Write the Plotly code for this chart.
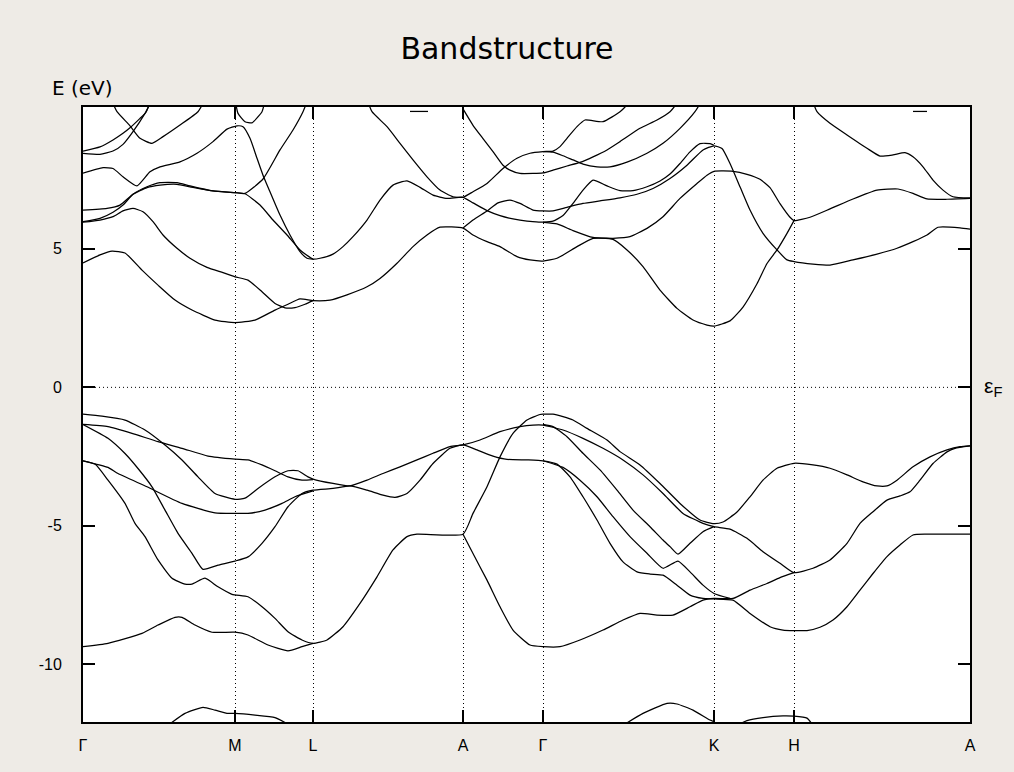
import plotly.graph_objects as go

# ---------------- high-symmetry path ----------------
kpath_labels = ["Γ", "M", "L", "A", "Γ", "K", "H", "A"]
kpath_pos = [0.0, 1.52, 2.30, 3.80, 4.60, 6.31, 7.11, 8.87]
energy_ticks = [-10, -5, 0, 5]
energy_range = [-12.08, 10.12]

# ---------------- conduction bands (k, E in eV) ----------------
c1_k = [0, 0.17, 0.29, 0.42, 0.59, 0.75, 0.92, 1.09, 1.32, 1.52, 1.72, 1.92, 2.05, 2.17, 2.30,
        2.47, 2.64, 2.84, 2.97, 3.14, 3.30, 3.44, 3.57, 3.80,
        3.90, 4.04, 4.17, 4.34, 4.47, 4.60,
        4.74, 4.94, 5.10, 5.30, 5.47, 5.64, 5.80, 5.97, 6.14, 6.24, 6.31,
        6.50, 6.64, 6.77, 6.87, 6.97, 7.07, 7.11,
        7.27, 7.47, 7.70, 7.94, 8.15, 8.30, 8.44, 8.64, 8.87]
c1_E = [4.49, 4.78, 4.92, 4.85, 4.23, 3.69, 3.15, 2.79, 2.43, 2.34, 2.43, 2.79, 3.00, 3.19, 3.13,
        3.15, 3.34, 3.63, 3.93, 4.48, 5.08, 5.50, 5.78, 5.75,
        5.50, 5.26, 5.08, 4.72, 4.60, 4.56,
        4.66, 5.08, 5.38, 5.38, 5.44, 5.74, 6.16, 6.82, 7.36, 7.66, 7.80,
        7.80, 7.69, 7.51, 7.21, 6.63, 6.14, 6.02,
        6.14, 6.44, 6.80, 7.12, 7.16, 7.00, 6.80, 6.79, 6.82]

c2_k = [0, 0.17, 0.30, 0.40, 0.50, 0.60, 0.70, 0.80, 0.94, 1.07, 1.24, 1.40, 1.52,
        1.65, 1.79, 1.92, 2.02, 2.12, 2.22, 2.30]
c2_E = [5.96, 6.04, 6.16, 6.37, 6.46, 6.34, 5.98, 5.50, 5.02, 4.66, 4.33, 4.14, 3.99,
        3.87, 3.45, 3.03, 2.87, 2.88, 3.00, 3.13]

c3_k = [0, 0.17, 0.30, 0.40, 0.50, 0.64, 0.77, 0.94, 1.07, 1.30, 1.52, 1.62, 1.80, 1.97, 2.10, 2.20, 2.25]
c3_E = [5.98, 6.10, 6.32, 6.58, 6.97, 7.24, 7.39, 7.39, 7.27, 7.09, 7.03, 7.00, 7.52, 8.57, 9.29, 9.95, 10.40]

c4_k = [0, 0.24, 0.37, 0.50, 0.64, 0.77, 0.94, 1.07, 1.30, 1.52,
        1.62, 1.77, 1.90, 2.04, 2.17, 2.30,
        2.37, 2.50, 2.60, 2.70, 2.84, 2.97, 3.10, 3.24, 3.37, 3.50, 3.64, 3.80,
        3.90, 4.04, 4.17, 4.30, 4.44, 4.60,
        4.74, 4.90, 5.10, 5.30, 5.44, 5.60, 5.77, 5.94, 6.10, 6.24, 6.31,
        6.47, 6.60, 6.74, 6.84, 6.94, 7.04, 7.11]
c4_E = [6.40, 6.46, 6.58, 6.97, 7.21, 7.30, 7.33, 7.24, 7.09, 7.03,
        6.99, 6.58, 6.04, 5.50, 4.96, 4.63,
        4.66, 4.81, 5.08, 5.44, 6.04, 6.76, 7.30, 7.45, 7.22, 6.94, 6.82, 6.86,
        6.66, 6.38, 6.20, 6.08, 6.00, 5.96,
        5.90, 5.66, 5.41, 5.34, 4.96, 4.36, 3.51, 2.85, 2.43, 2.25, 2.21,
        2.40, 2.90, 3.74, 4.47, 4.96, 5.56, 6.02]

c5_k = [0, 0.20, 0.30, 0.40, 0.54, 0.67, 0.77, 0.97, 1.14, 1.30, 1.44, 1.54, 1.60, 1.67,
        1.74, 1.80, 1.87, 1.97, 2.07, 2.17, 2.24, 2.30]
c5_E = [7.73, 7.93, 7.90, 7.60, 7.27, 7.78, 7.96, 8.14, 8.45, 8.87, 9.32, 9.44, 9.41, 8.99,
        8.27, 7.66, 7.06, 6.22, 5.50, 4.90, 4.66, 4.63]

c6_k = [0, 0.17, 0.30, 0.40, 0.47, 0.57, 0.63, 0.68]
c6_E = [8.53, 8.68, 8.93, 9.17, 9.37, 9.71, 9.93, 10.40]

c7_k = [0, 0.17, 0.30, 0.40, 0.50, 0.62, 0.68]
c7_E = [8.45, 8.41, 8.53, 8.77, 9.23, 9.89, 10.30]

c8_k = [0.30, 0.34, 0.47, 0.57, 0.69, 0.80, 0.97, 1.15, 1.20]
c8_E = [10.25, 9.95, 9.44, 8.99, 8.81, 9.05, 9.47, 9.95, 10.25]

c9_k = [1.53, 1.55, 1.62, 1.69, 1.79, 1.81]
c9_E = [10.20, 9.89, 9.59, 9.55, 9.95, 10.20]

c10_k = [2.85, 2.89, 3.04, 3.17, 3.30, 3.44, 3.57, 3.70, 3.80,
         3.90, 4.04, 4.20, 4.34, 4.47, 4.60,
         4.70, 4.77, 4.84, 4.94, 5.02, 5.20, 5.37, 5.47]
c10_E = [10.30, 9.95, 9.41, 8.81, 8.21, 7.60, 7.12, 6.88, 6.86,
         7.06, 7.36, 7.90, 8.27, 8.45, 8.51,
         8.53, 8.69, 8.99, 9.41, 9.65, 9.59, 9.95, 10.30]

c11_k = [3.80, 3.90, 4.00, 4.10, 4.20, 4.27, 4.37, 4.50, 4.60, 4.70, 4.84, 4.97,
         5.10, 5.24, 5.37, 5.57, 5.74, 5.87, 5.95]
c11_E = [10.05, 9.46, 8.98, 8.51, 8.02, 7.84, 7.72, 7.72, 7.74, 7.84, 7.99, 8.12,
         8.32, 8.57, 8.87, 9.35, 9.65, 9.95, 10.30]

c12_k = [3.80, 3.90, 4.04, 4.15, 4.27, 4.37, 4.50, 4.60,
         4.70, 4.84, 5.00, 5.17, 5.37, 5.54, 5.70, 5.87, 6.04, 6.20, 6.31,
         6.39, 6.47, 6.57, 6.67, 6.80, 6.94, 7.04, 7.11,
         7.30, 7.47, 7.70, 7.94, 8.14, 8.30, 8.44, 8.55, 8.77, 8.87]
c12_E = [5.75, 6.04, 6.37, 6.66, 6.76, 6.64, 6.40, 6.37,
         6.37, 6.50, 6.64, 6.73, 6.84, 6.97, 7.18, 7.54, 8.02, 8.57, 8.72,
         8.62, 8.08, 7.24, 6.40, 5.56, 4.96, 4.60, 4.54,
         4.45, 4.41, 4.60, 4.81, 5.02, 5.26, 5.50, 5.78, 5.76, 5.71]

c13_k = [4.60, 4.70, 4.80, 4.90, 5.00, 5.10, 5.24, 5.37, 5.50, 5.64, 5.77, 5.87,
         5.97, 6.07, 6.17, 6.27, 6.31]
c13_E = [5.96, 6.00, 6.20, 6.64, 7.12, 7.48, 7.27, 7.10, 7.10, 7.24, 7.45, 7.70,
         8.08, 8.50, 8.80, 8.80, 8.74]

c14_k = [4.60, 4.70, 4.80, 4.90, 5.00, 5.14, 5.27, 5.44, 5.64, 5.80, 5.97, 6.12, 6.18]
c14_E = [8.51, 8.49, 8.36, 8.21, 8.06, 7.96, 7.96, 8.13, 8.45, 8.81, 9.35, 9.95, 10.30]

c15_k = [7.30, 7.34, 7.47, 7.64, 7.84, 7.97, 8.10, 8.22, 8.30, 8.40, 8.50, 8.60, 8.70, 8.87]
c15_E = [10.30, 9.95, 9.53, 9.11, 8.63, 8.35, 8.39, 8.47, 8.32, 7.96, 7.48, 7.12, 6.88, 6.84]

c16_k = [3.27, 3.45]
c16_E = [9.96, 9.96]

c17_k = [8.30, 8.44]
c17_E = [9.96, 9.96]

# ---------------- valence bands ----------------
v1_k = [0, 0.19, 0.42, 0.62, 0.82, 0.99, 1.15, 1.32, 1.52, 1.62, 1.75, 1.92, 2.05, 2.15, 2.25, 2.30,
        2.50, 2.67, 2.84, 3.00, 3.17, 3.34, 3.50, 3.67, 3.80,
        3.97, 4.17, 4.37, 4.50, 4.60,
        4.80, 5.00, 5.20, 5.40, 5.60, 5.80, 6.00, 6.20, 6.31,
        6.47, 6.64, 6.80, 6.97, 7.11,
        7.30, 7.47, 7.64, 7.77, 7.90, 8.04, 8.17, 8.27, 8.37, 8.50, 8.64, 8.72, 8.87]
v1_E = [-0.97, -1.04, -1.18, -1.54, -2.08, -2.62, -3.23, -3.83, -4.04, -4.00, -3.65, -3.23, -3.01, -3.01, -3.23, -3.31,
        -3.47, -3.56, -3.35, -3.11, -2.87, -2.62, -2.38, -2.14, -2.08,
        -1.90, -1.60, -1.42, -1.36, -1.36,
        -1.54, -1.84, -2.20, -2.62, -3.16, -3.83, -4.55, -4.91, -5.03,
        -5.12, -5.45, -5.93, -6.35, -6.69,
        -6.53, -6.23, -5.63, -4.91, -4.49, -4.07, -3.92, -3.77, -3.35, -2.75, -2.33, -2.20, -2.11]

v2_k = [0, 0.25, 0.49, 0.75, 0.99, 1.25, 1.52, 1.65, 1.79, 1.92, 2.05, 2.19, 2.30]
v2_E = [-1.34, -1.42, -1.66, -1.96, -2.20, -2.48, -2.59, -2.62, -2.80, -3.01, -3.23, -3.35, -3.33]

v3_k = [0, 0.25, 0.42, 0.55, 0.69, 0.82, 0.95, 1.09, 1.20, 1.35, 1.52,
        1.65, 1.79, 1.92, 2.05, 2.19, 2.30,
        2.50, 2.67, 2.84, 3.00, 3.12, 3.24, 3.37, 3.50, 3.67, 3.80,
        3.94, 4.10, 4.24, 4.44, 4.60,
        4.74, 4.87, 5.00, 5.14, 5.27, 5.40, 5.54, 5.67, 5.80, 5.94, 6.07, 6.20, 6.31,
        6.50, 6.67, 6.87, 7.00, 7.11,
        7.24, 7.37, 7.50, 7.64, 7.77, 7.90, 8.04, 8.17, 8.30, 8.44, 8.87]
v3_E = [-1.34, -1.84, -2.39, -2.93, -3.59, -4.43, -5.27, -5.99, -6.57, -6.42, -6.27,
        -6.12, -5.63, -5.03, -4.31, -3.83, -3.71,
        -3.65, -3.56, -3.71, -3.89, -3.97, -3.83, -3.35, -2.75, -2.20, -2.08,
        -2.26, -2.48, -2.60, -2.62, -2.65,
        -2.77, -3.23, -3.95, -4.79, -5.63, -6.30, -6.66, -6.74, -6.78, -7.14, -7.50, -7.62, -7.64,
        -7.68, -8.16, -8.64, -8.76, -8.78,
        -8.78, -8.66, -8.40, -7.92, -7.32, -6.72, -6.11, -5.69, -5.33, -5.30, -5.30]

v4_k = [0, 0.25, 0.35, 0.64, 0.99, 1.32, 1.52, 1.65, 1.82, 1.99, 2.12, 2.30]
v4_E = [-2.65, -2.89, -3.11, -3.59, -4.19, -4.53, -4.55, -4.55, -4.43, -4.19, -3.95, -3.74]

v5_k = [0, 0.12, 0.25, 0.42, 0.52, 0.62, 0.75, 0.89, 1.02, 1.09, 1.22, 1.35, 1.49,
        1.65, 1.79, 1.92, 2.05, 2.19, 2.30,
        2.44, 2.60, 2.77, 2.94, 3.10, 3.24, 3.34, 3.80,
        3.90, 4.04, 4.17, 4.30, 4.44, 4.57, 4.60, 4.70,
        4.80, 4.90, 5.04, 5.24, 5.37, 5.57, 5.77, 5.97, 6.17, 6.31,
        6.40, 6.54, 6.67, 6.80, 6.94, 7.11,
        7.30, 7.47, 7.64, 7.80, 7.94, 8.04, 8.14, 8.30, 8.47, 8.64, 8.77, 8.87]
v5_E = [-2.65, -2.77, -3.35, -4.19, -4.91, -5.39, -6.23, -6.89, -7.10, -7.10, -6.89, -7.20, -7.47,
        -7.56, -7.92, -8.34, -8.82, -9.12, -9.24,
        -9.12, -8.64, -7.80, -6.84, -5.87, -5.39, -5.30, -5.30,
        -4.55, -3.59, -2.51, -1.66, -1.18, -0.98, -0.97, -0.97,
        -1.06, -1.18, -1.48, -1.90, -2.32, -2.80, -3.47, -4.19, -4.79, -4.92,
        -4.86, -4.50, -3.95, -3.35, -2.92, -2.74,
        -2.80, -2.92, -3.16, -3.41, -3.56, -3.56, -3.35, -2.87, -2.51, -2.26, -2.14, -2.11]

v6_k = [0, 0.25, 0.59, 0.75, 0.92, 0.99, 1.12, 1.29, 1.52, 1.65, 1.85, 2.05, 2.19, 2.30]
v6_E = [-9.36, -9.24, -8.88, -8.58, -8.30, -8.30, -8.58, -8.84, -8.84, -8.94, -9.30, -9.51, -9.36, -9.24]

v7_k = [3.80, 3.90, 4.04, 4.17, 4.30, 4.47, 4.60,
        4.77, 4.97, 5.20, 5.40, 5.57, 5.74, 5.90, 6.07, 6.20, 6.31,
        6.50, 6.67, 6.84, 6.97, 7.11]
v7_E = [-5.30, -6.00, -6.96, -7.92, -8.76, -9.30, -9.36,
        -9.36, -9.12, -8.76, -8.40, -8.16, -8.22, -8.22, -7.92, -7.68, -7.62,
        -7.62, -7.32, -7.08, -6.87, -6.69]

v8_k = [4.60, 4.70, 4.84, 5.00, 5.17, 5.34, 5.50, 5.67, 5.80, 5.87, 5.95, 6.07, 6.20, 6.31]
v8_E = [-1.34, -1.42, -1.78, -2.38, -2.98, -3.71, -4.43, -5.03, -5.51, -5.75, -6.02, -5.63, -5.21, -5.03]

v9_k = [4.60, 4.80, 4.97, 5.14, 5.30, 5.47, 5.64, 5.80, 5.95, 6.07, 6.20, 6.31, 6.47]
v9_E = [-2.65, -2.89, -3.35, -3.95, -4.67, -5.39, -5.99, -6.53, -6.27, -6.66, -7.14, -7.44, -7.62]

b1_k = [0.85, 1.02, 1.20, 1.32, 1.45, 1.52, 1.72, 1.92, 2.07]
b1_E = [-12.20, -11.77, -11.55, -11.65, -11.77, -11.77, -11.83, -11.92, -12.20]

b2_k = [5.40, 5.60, 5.84, 5.94, 6.10, 6.27, 6.31]
b2_E = [-12.20, -11.77, -11.41, -11.43, -11.65, -12.01, -12.07]

b3_k = [6.54, 6.64, 6.80, 7.00, 7.11, 7.24, 7.30]
b3_E = [-12.20, -12.03, -11.92, -11.86, -11.87, -11.94, -12.20]

bands = [
    (c1_k, c1_E), (c2_k, c2_E), (c3_k, c3_E), (c4_k, c4_E), (c5_k, c5_E),
    (c6_k, c6_E), (c7_k, c7_E), (c8_k, c8_E), (c9_k, c9_E), (c10_k, c10_E),
    (c11_k, c11_E), (c12_k, c12_E), (c13_k, c13_E), (c14_k, c14_E), (c15_k, c15_E),
    (c16_k, c16_E), (c17_k, c17_E),
    (v1_k, v1_E), (v2_k, v2_E), (v3_k, v3_E), (v4_k, v4_E), (v5_k, v5_E),
    (v6_k, v6_E), (v7_k, v7_E), (v8_k, v8_E), (v9_k, v9_E),
    (b1_k, b1_E), (b2_k, b2_E), (b3_k, b3_E),
]

FONT = "Liberation Sans, Arial, sans-serif"
WIDE_FONT = "DejaVu Sans, Liberation Sans, sans-serif"
DOTS = "1px,3px"

fig = go.Figure()
for k, e in bands:
    fig.add_trace(go.Scatter(
        x=k, y=e, mode="lines",
        line=dict(color="black", width=1.25, shape="spline", smoothing=0.5),
        showlegend=False, hoverinfo="skip",
    ))

# dotted Fermi level line
fig.add_shape(type="line", xref="paper", x0=0, x1=1, yref="y", y0=0, y1=0,
              line=dict(color="black", width=1, dash=DOTS), layer="below")

fig.update_layout(
    width=1014, height=772,
    margin=dict(l=83, r=44, t=107, b=50),
    paper_bgcolor="#eeebe6",
    plot_bgcolor="white",
    font=dict(family=FONT, color="black", size=16),
    title=dict(text="Bandstructure", x=0.5, xref="container", xanchor="center",
               y=1 - 48 / 772, yref="container", yanchor="middle",
               font=dict(family=WIDE_FONT, size=30, color="black")),
    showlegend=False,
)

fig.update_xaxes(
    range=[kpath_pos[0], kpath_pos[-1]],
    tickmode="array", tickvals=kpath_pos, ticktext=kpath_labels,
    ticks="inside", ticklen=12, tickwidth=1.5, tickcolor="black",
    showline=True, linecolor="black", linewidth=2, mirror="ticks",
    showgrid=True, gridcolor="black", griddash=DOTS, gridwidth=1,
    zeroline=False, ticklabelstandoff=8,
    tickfont=dict(family=FONT, size=16, color="black"),
)
fig.update_yaxes(
    range=energy_range,
    tickmode="array", tickvals=energy_ticks, ticktext=[str(t) for t in energy_ticks],
    ticks="inside", ticklen=12, tickwidth=1.5, tickcolor="black",
    showline=True, linecolor="black", linewidth=2, mirror="ticks",
    showgrid=False, zeroline=False, ticklabelstandoff=16,
    tickfont=dict(family=FONT, size=16, color="black"),
)

fig.add_annotation(text="E (eV)", xref="paper", yref="paper",
                   x=(50 - 83) / 887, y=(722 - 88) / 615, xanchor="left", yanchor="middle",
                   showarrow=False, font=dict(family=WIDE_FONT, size=20, color="black"))
fig.add_annotation(text="ε<sub>F</sub>", xref="paper", yref="y",
                   x=1 + (982 - 970) / 887, y=0, xanchor="left", yanchor="middle",
                   showarrow=False, font=dict(family=FONT, size=21, color="black"))

fig.write_html("out.html")
